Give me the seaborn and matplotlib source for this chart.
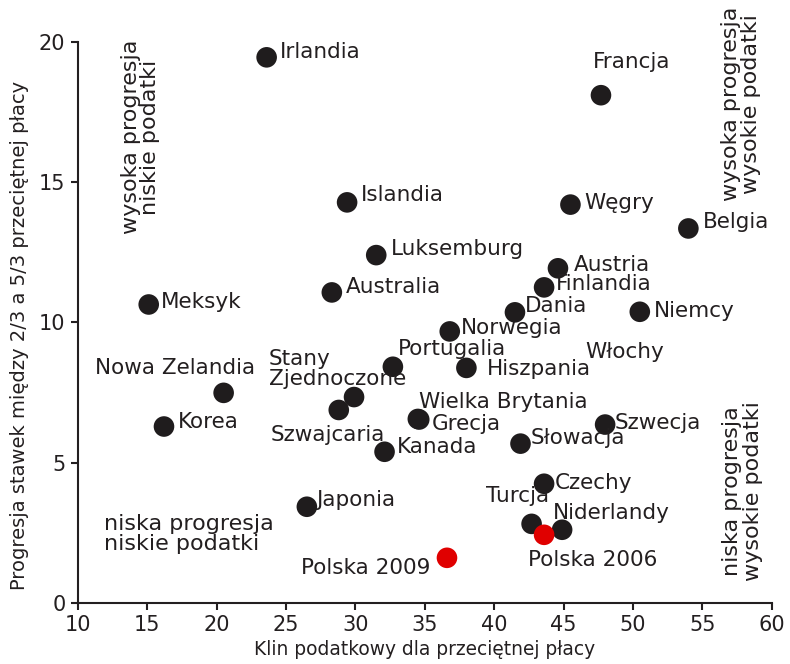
import pandas as pd
import matplotlib.pyplot as plt
import seaborn as sns

# Dane
kraje = ["Irlandia", "Francja", "Islandia", "Węgry", "Belgia", "Luksemburg",
         "Austria", "Finlandia", "Australia", "Meksyk", "Dania", "Niemcy",
         "Norwegia", "Portugalia", "Hiszpania", "Nowa Zelandia",
         "Stany\nZjednoczone", "Szwajcaria", "Wielka Brytania", "Grecja",
         "Szwecja", "Korea", "Słowacja", "Kanada", "Czechy", "Japonia",
         "Turcja", "Niderlandy", "Polska 2006", "Polska 2009"]
klin = [23.6, 47.7, 29.4, 45.5, 54.0, 31.5,
        44.6, 43.6, 28.3, 15.1, 41.5, 50.5,
        36.8, 32.7, 38.0, 20.5,
        29.9, 28.8, 34.5, 34.6,
        48.0, 16.2, 41.9, 32.1, 43.6, 26.5,
        42.7, 44.9, 43.6, 36.6]
progresja = [19.45, 18.1, 14.28, 14.2, 13.35, 12.4,
             11.93, 11.25, 11.07, 10.64, 10.36, 10.38,
             9.68, 8.42, 8.38, 7.49,
             7.34, 6.88, 6.56, 6.54,
             6.36, 6.29, 5.68, 5.39, 4.25, 3.43,
             2.82, 2.61, 2.43, 1.61]
grupa = ["OECD"] * 28 + ["Polska"] * 2

df = pd.DataFrame({"kraj": kraje, "klin": klin, "progresja": progresja, "grupa": grupa})

# przesunięcia etykiet (piksele) i wyrównanie
etykiety = {
    "Irlandia": (13, 5, "left"), "Francja": (31, 33, "center"),
    "Islandia": (14, 7, "left"), "Węgry": (14, 2, "left"),
    "Belgia": (15, 6, "left"), "Luksemburg": (15, 6, "left"),
    "Austria": (16, 3, "left"), "Finlandia": (12, 3, "left"),
    "Australia": (14, 5, "left"), "Meksyk": (12, 2, "left"),
    "Dania": (10, 6, "left"), "Niemcy": (14, 1, "left"),
    "Norwegia": (11, 3, "left"), "Portugalia": (5, 18, "left"),
    "Hiszpania": (20, -1, "left"), "Nowa Zelandia": (-49, 25, "center"),
    "Stany\nZjednoczone": (-85, 28, "left"), "Szwajcaria": (-11, -25, "center"),
    "Wielka Brytania": (1, 17, "left"), "Grecja": (13, -4, "left"),
    "Szwecja": (10, 2, "left"), "Korea": (14, 5, "left"),
    "Słowacja": (10, 6, "left"), "Kanada": (12, 5, "left"),
    "Czechy": (11, 1, "left"), "Japonia": (9, 7, "left"),
    "Turcja": (-14, 28, "center"), "Niderlandy": (-9, 17, "left"),
    "Polska 2006": (-16, -25, "left"), "Polska 2009": (-17, -10, "right"),
}

sns.set_theme(style="ticks")
plt.rcParams['font.family'] = ['DejaVu Sans']
tekst = "#231f20"

fig = plt.figure(figsize=(7.9, 6.64), dpi=100)
ax = fig.add_axes([0.0987, 0.0919, 0.878, 0.845])

sns.scatterplot(data=df, x="klin", y="progresja", hue="grupa",
                palette={"OECD": "#1f1c1d", "Polska": "#e00000"},
                s=220, edgecolor="none", legend=False, ax=ax, clip_on=False, zorder=3)

for _, r in df.iterrows():
    dx, dy, ha = etykiety[r["kraj"]]
    ax.annotate(r["kraj"], (r["klin"], r["progresja"]), xytext=(dx, dy),
                textcoords="offset pixels", ha=ha, va="center",
                fontsize=15.5, color=tekst, linespacing=1.05)

# Włochy - etykieta bez punktu na oryginale
ax.text(49.4, 8.93, "Włochy", ha="center", va="center", fontsize=15.5, color=tekst)

# opisy ćwiartek
ax.text(14.5, 16.6, "wysoka progresja\nniskie podatki", rotation=90,
        ha="center", va="center", fontsize=16, color=tekst, linespacing=0.95)
ax.text(57.8, 17.8, "wysoka progresja\nwysokie podatki", rotation=90,
        ha="center", va="center", fontsize=16, color=tekst, linespacing=1.05)
ax.text(57.9, 4.0, "niska progresja\nwysokie podatki", rotation=90,
        ha="center", va="center", fontsize=16, color=tekst, linespacing=1.05)
ax.text(11.9, 2.46, "niska progresja\nniskie podatki",
        ha="left", va="center", fontsize=16, color=tekst, linespacing=0.95)

ax.set_xlim(10, 60)
ax.set_ylim(0, 20)
ax.set_xticks(range(10, 61, 5))
ax.set_yticks(range(0, 21, 5))
ax.set_xlabel("Klin podatkowy dla przeciętnej płacy", fontsize=13.4, color=tekst, labelpad=3)
ax.set_ylabel("Progresja stawek między 2/3 a 5/3 przeciętnej płacy", fontsize=14,
              color=tekst)
ax.yaxis.set_label_coords(-0.071, 0.4766)
ax.tick_params(axis="both", length=5, width=1.5, labelsize=15, colors=tekst, pad=4)
for s in ["left", "bottom"]:
    ax.spines[s].set_linewidth(1.5)
    ax.spines[s].set_color(tekst)
sns.despine(ax=ax)

plt.savefig("out.png", dpi=100)
